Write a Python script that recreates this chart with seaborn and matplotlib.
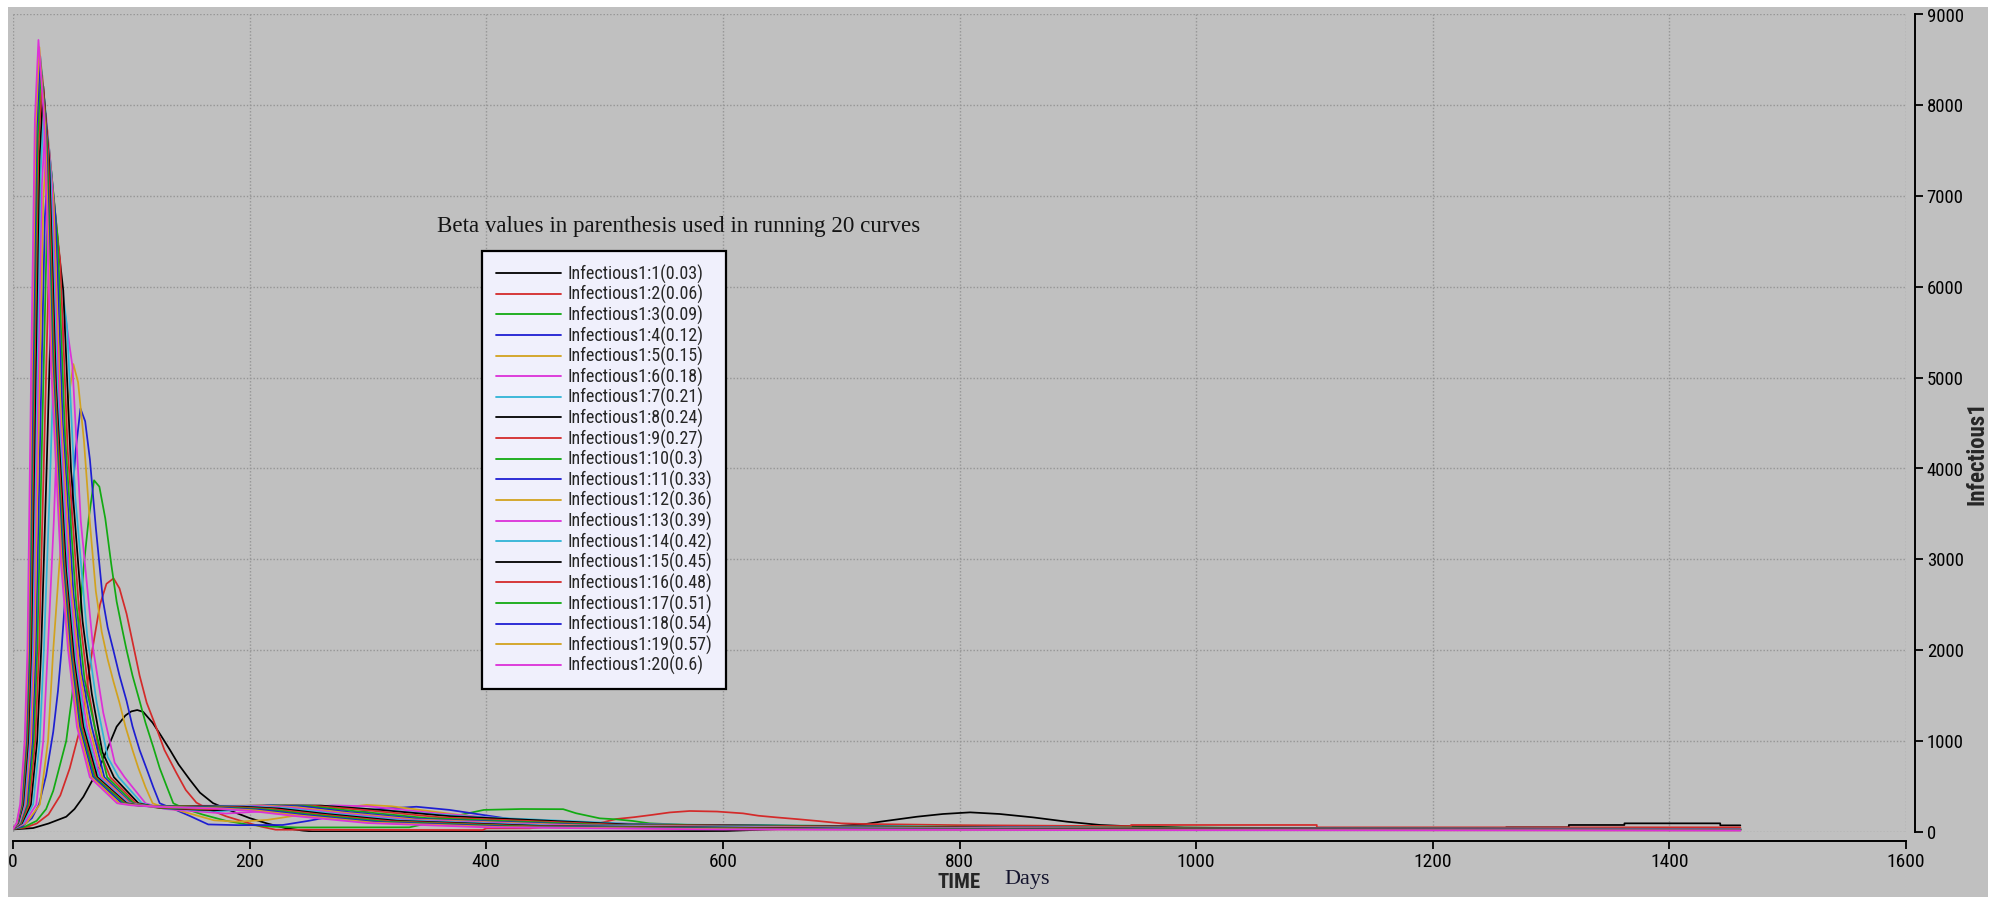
import matplotlib
matplotlib.use("Agg")
import matplotlib.pyplot as plt
from matplotlib.patches import Rectangle
from matplotlib.lines import Line2D
import seaborn as sns

# Beta values of the 20 runs and their legend labels
BETAS = [0.03, 0.06, 0.09, 0.12, 0.15, 0.18, 0.21, 0.24, 0.27, 0.30,
         0.33, 0.36, 0.39, 0.42, 0.45, 0.48, 0.51, 0.54, 0.57, 0.60]
SERIES_LABELS = [
    "Infectious1:1(0.03)", "Infectious1:2(0.06)", "Infectious1:3(0.09)",
    "Infectious1:4(0.12)", "Infectious1:5(0.15)", "Infectious1:6(0.18)",
    "Infectious1:7(0.21)", "Infectious1:8(0.24)", "Infectious1:9(0.27)",
    "Infectious1:10(0.3)", "Infectious1:11(0.33)", "Infectious1:12(0.36)",
    "Infectious1:13(0.39)", "Infectious1:14(0.42)", "Infectious1:15(0.45)",
    "Infectious1:16(0.48)", "Infectious1:17(0.51)", "Infectious1:18(0.54)",
    "Infectious1:19(0.57)", "Infectious1:20(0.6)",
]
X_TICKS = [0, 200, 400, 600, 800, 1000, 1200, 1400, 1600]
Y_TICKS = [0, 1000, 2000, 3000, 4000, 5000, 6000, 7000, 8000, 9000]

# Infectious1 over time (days) for each run
DAYS_1 = [0, 17, 30, 45, 52, 59.5, 66, 73.5, 80, 87.6, 95, 100, 105, 110, 118, 125, 132.7, 140, 149.6, 158,
          169, 186, 200, 215, 230, 245, 253, 400, 560, 603, 650, 700, 721, 733, 764, 786, 809, 834, 862, 891,
          919, 940, 965, 990, 1100, 1185, 1262, 1262, 1315, 1315, 1362, 1362, 1443, 1443, 1460]
INF_1 = [25, 40, 90, 165, 250, 385, 540, 720, 920, 1157, 1280, 1325, 1340, 1320, 1200, 1060, 900, 740, 570, 430,
         315, 220, 150, 90, 40, 12, 3, 3, 5, 8, 30, 65, 85, 110, 165, 195, 213, 195, 158, 110,
         74, 62, 55, 45, 35, 37, 40, 48, 48, 74, 74, 92, 92, 70, 70]

DAYS_2 = [0, 10, 20, 30, 40, 48, 56, 62, 67, 73.5, 79, 85, 90, 96, 101.7, 107, 113, 121, 128, 138,
          146, 155, 165, 180, 195, 210, 222, 397, 400, 437, 470, 496, 510, 525, 540, 555, 572, 595, 617, 630,
          645, 665, 680, 700, 720, 800, 900, 945, 945, 1102, 1102, 1460]
INF_2 = [30, 45, 90, 190, 400, 700, 1100, 1550, 2000, 2500, 2730, 2790, 2680, 2400, 2050, 1720, 1420, 1150, 900, 650,
         460, 320, 250, 170, 110, 55, 22, 18, 37, 37, 75, 95, 140, 160, 185, 212, 228, 222, 202, 176,
         158, 136, 118, 92, 85, 72, 64, 62, 74, 74, 48, 48]

DAYS_3 = [0, 10, 20, 28, 34, 40, 45, 50, 55, 60, 64, 68.5, 73, 78, 83, 87.6, 92, 96, 101, 107,
          112, 118.5, 124, 130, 135.5, 145, 160, 180, 200, 220, 240, 335, 360, 380, 398, 430, 465, 476, 496, 510,
          524, 538, 570, 650, 800, 950, 1100, 1300, 1460]
INF_3 = [30, 55, 120, 250, 450, 750, 1000, 1500, 2200, 2950, 3450, 3870, 3800, 3450, 2950, 2535, 2250, 2000, 1720, 1440,
         1200, 935, 700, 496, 313, 255, 190, 120, 75, 55, 47, 48, 120, 190, 240, 250, 248, 203, 147, 136,
         118, 92, 76, 68, 55, 47, 40, 33, 30]

DAYS_4 = [0, 8, 16, 22, 28, 34, 38, 41, 45, 49, 53, 57, 61, 65, 70, 76, 80, 84.8, 90, 96,
          101, 107, 113, 118.6, 124, 135, 150, 165, 190, 228, 250, 270, 290, 310, 341, 369, 397.6, 425.6, 453, 500,
          560, 650, 800, 1000, 1200, 1460]
INF_4 = [30, 60, 150, 300, 620, 1100, 1550, 2000, 2750, 3500, 4200, 4660, 4520, 4100, 3350, 2550, 2250, 2000, 1720, 1440,
         1160, 900, 690, 490, 313, 255, 170, 80, 72, 74, 120, 170, 215, 250, 275, 240, 184, 130, 100, 82,
         70, 60, 48, 38, 30, 25]

DAYS_5 = [0, 11.3, 22.7, 29.6, 34, 40, 45.6, 51, 55, 60, 65, 70, 75, 80, 85, 90, 95, 101, 106, 112,
          118, 128, 140, 155, 170, 190, 215, 245, 275, 299, 320, 350, 390, 430, 480, 560, 700, 900, 1150, 1460]
INF_5 = [30, 95, 300, 1000, 2000, 3090, 4640, 5150, 4950, 4300, 3400, 2650, 2200, 1900, 1650, 1420, 1160, 900, 700, 490,
         313, 265, 235, 180, 125, 110, 130, 190, 260, 295, 280, 230, 165, 120, 88, 70, 55, 42, 32, 24]

DAYS_6 = [0, 9.8, 19.7, 25.6, 29.4, 34.5, 39.3, 44.0, 50.2, 57.3, 67.9, 76.3, 86, 94.3, 112, 128, 180, 220, 270, 300,
          360, 450, 600, 900, 1200, 1460]
INF_6 = [30, 95, 300, 1000, 2000, 3420, 5130, 5700, 5130, 3420, 2000, 1310, 758, 600, 313, 250, 200, 230, 290, 280,
         200, 110, 65, 45, 35, 30]

DAYS_7 = [0, 8.5, 17.0, 22.6, 26.1, 30.9, 35.4, 39.8, 45.7, 52.5, 62.7, 70.7, 80, 89.3, 109, 126, 175, 240, 270, 320,
          380, 530, 860, 1100, 1460]
INF_7 = [30, 95, 300, 1000, 2000, 3710, 5560, 6180, 5560, 3710, 2160, 1421, 822, 600, 313, 258, 225, 290, 280, 230,
         170, 82, 46, 36, 30]

DAYS_8 = [0, 7.6, 15.1, 20.4, 23.8, 28.35, 32.6, 36.8, 42.5, 49.1, 58.8, 66.55, 75.5, 85.3, 106, 124, 170, 230, 260, 310,
          370, 520, 840, 1100, 1460]
INF_8 = [30, 95, 300, 1000, 2000, 3970, 5960, 6620, 5960, 3970, 2320, 1523, 880, 600, 313, 262, 235, 288, 288, 240,
         170, 80, 45, 35, 29]

DAYS_9 = [0, 6.9, 13.8, 18.8, 22.0, 26.3, 30.4, 34.3, 39.9, 46.25, 55.8, 63.3, 72, 82.2, 104, 122, 165, 225, 255, 300,
          360, 510, 820, 1100, 1460]
INF_9 = [30, 95, 300, 1000, 2000, 4190, 6280, 6980, 6280, 4190, 2440, 1605, 928, 600, 313, 265, 245, 290, 285, 235,
         160, 78, 44, 34, 28]

DAYS_10 = [0, 6.3, 12.6, 17.45, 20.5, 24.6, 28.5, 32.3, 37.7, 43.9, 53.2, 60.5, 69, 79.6, 102, 120, 160, 220, 250, 290,
           350, 500, 800, 1000, 1460]
INF_10 = [30, 95, 300, 1000, 2000, 4370, 6550, 7280, 6550, 4370, 2550, 1674, 1157, 600, 313, 268, 255, 292, 282, 225,
          150, 75, 42, 34, 28]

DAYS_11 = [0, 5.8, 11.6, 16.3, 19.2, 23.2, 26.95, 30.6, 35.9, 42.0, 51.0, 58.2, 66.5, 77.2, 100, 118, 160, 215, 245, 285,
           345, 490, 780, 1000, 1460]
INF_11 = [30, 95, 300, 1000, 2000, 4510, 6770, 7520, 6770, 4510, 2630, 1730, 1157, 600, 313, 272, 270, 292, 278, 215,
          140, 72, 40, 33, 27]

DAYS_12 = [0, 5.4, 10.8, 15.3, 18.1, 21.95, 25.6, 29.1, 34.3, 40.3, 49.25, 56.3, 64.5, 75.5, 99, 116, 160, 210, 240, 280,
           340, 480, 760, 1000, 1460]
INF_12 = [30, 95, 300, 1000, 2000, 4640, 6960, 7730, 6960, 4640, 2710, 1778, 1157, 600, 313, 275, 280, 290, 270, 210,
          135, 70, 40, 32, 26]

DAYS_13 = [0, 5.0, 10.0, 14.3, 17.1, 20.85, 24.4, 27.8, 32.9, 38.8, 47.6, 54.5, 62.5, 73.9, 98, 114, 160, 205, 235, 275,
           335, 470, 740, 1000, 1460]
INF_13 = [30, 95, 300, 1000, 2000, 4750, 7120, 7910, 7120, 4750, 2770, 1819, 1157, 600, 313, 278, 286, 285, 265, 205,
          130, 68, 38, 30, 25]

DAYS_14 = [0, 4.6, 9.3, 13.5, 16.2, 19.8, 23.3, 26.6, 31.7, 37.5, 46.2, 53.05, 61, 72.5, 97, 112, 155, 200, 230, 270,
           330, 460, 720, 1000, 1460]
INF_14 = [30, 95, 300, 1000, 2000, 4840, 7260, 8070, 7260, 4840, 2820, 1856, 1157, 600, 313, 280, 284, 280, 260, 200,
          125, 65, 36, 28, 24]

DAYS_15 = [0, 4.3, 8.6, 12.8, 15.4, 19.0, 22.3, 25.6, 30.6, 36.3, 44.9, 51.7, 59.5, 71.2, 96, 110, 150, 195, 225, 265,
           325, 450, 700, 1000, 1460]
INF_15 = [30, 95, 300, 1000, 2000, 4930, 7390, 8210, 7390, 4930, 2870, 1888, 1157, 600, 313, 282, 282, 275, 255, 195,
          120, 62, 34, 26, 22]

DAYS_16 = [0, 4.0, 8.0, 12.1, 14.7, 18.2, 21.5, 24.7, 29.7, 35.35, 43.8, 50.55, 58.3, 70.0, 95, 108, 150, 190, 220, 260,
           320, 440, 680, 1000, 1460]
INF_16 = [30, 95, 300, 1000, 2000, 5000, 7500, 8330, 7500, 5000, 2920, 1916, 1157, 600, 313, 285, 280, 270, 250, 190,
          115, 60, 32, 24, 20]

DAYS_17 = [0, 3.7, 7.5, 11.5, 14.0, 17.4, 20.7, 23.8, 28.7, 34.4, 42.8, 49.5, 57.2, 69.0, 94, 106, 145, 185, 215, 255,
           315, 430, 660, 1000, 1460]
INF_17 = [30, 95, 300, 1000, 2000, 5060, 7590, 8430, 7590, 5060, 2950, 1939, 1157, 600, 313, 288, 278, 265, 245, 185,
          110, 58, 30, 22, 18]

DAYS_18 = [0, 3.5, 7.0, 10.9, 13.4, 16.8, 19.9, 23.0, 27.9, 33.5, 41.9, 48.6, 56.2, 67.7, 92, 104, 140, 180, 210, 250,
           310, 420, 640, 1000, 1460]
INF_18 = [30, 95, 300, 1000, 2000, 5120, 7690, 8540, 7690, 5120, 2990, 1964, 1157, 600, 313, 290, 275, 262, 240, 180,
          105, 55, 28, 20, 16]

DAYS_19 = [0, 3.2, 6.5, 10.35, 12.8, 16.1, 19.3, 22.3, 27.2, 32.7, 41, 47.6, 55.2, 66.3, 90, 102, 135, 175, 205, 245,
           305, 410, 620, 950, 1460]
INF_19 = [30, 95, 300, 1000, 2000, 5180, 7780, 8640, 7780, 5180, 3020, 1987, 1157, 600, 313, 292, 272, 258, 235, 175,
          100, 52, 26, 18, 14]

DAYS_20 = [0, 3, 6, 9.8, 12.2, 15.5, 18.5, 21.5, 26.3, 31.8, 40, 46.5, 54, 64.9, 88, 100, 130, 170, 200, 240,
           300, 400, 600, 900, 1460]
INF_20 = [30, 95, 300, 1000, 2000, 5230, 7850, 8720, 7850, 5230, 3050, 2005, 1157, 600, 313, 290, 270, 255, 230, 170,
          95, 48, 24, 17, 12]

ALL_DAYS = [DAYS_1, DAYS_2, DAYS_3, DAYS_4, DAYS_5, DAYS_6, DAYS_7, DAYS_8, DAYS_9, DAYS_10,
            DAYS_11, DAYS_12, DAYS_13, DAYS_14, DAYS_15, DAYS_16, DAYS_17, DAYS_18, DAYS_19, DAYS_20]
ALL_INF = [INF_1, INF_2, INF_3, INF_4, INF_5, INF_6, INF_7, INF_8, INF_9, INF_10,
           INF_11, INF_12, INF_13, INF_14, INF_15, INF_16, INF_17, INF_18, INF_19, INF_20]

# Seven-colour cycle used by the simulation package
CYCLE = ["#000000", "#d42a2a", "#12aa12", "#1e1ed2", "#d2a21e", "#dc30d8", "#30b4d6"]
COLORS = [CYCLE[i % len(CYCLE)] for i in range(len(BETAS))]

BG = "#c0c0c0"
NARROW = ["Liberation Sans Narrow", "Arial Narrow", "DejaVu Sans Condensed",
          "Roboto Condensed", "Open Sans Condensed", "Noto Sans Condensed", "DejaVu Sans"]
SERIF = ["Liberation Serif", "DejaVu Serif"]

sns.set_style("white")
plt.rcParams["font.family"] = NARROW
plt.rcParams["font.stretch"] = "condensed"

W, H = 1996, 897
fig = plt.figure(figsize=(W / 100, H / 100), dpi=100, facecolor=BG)
ax = fig.add_axes([13 / W, (H - 831.7) / H, 1893 / W, 817.2 / H])
ax.set_facecolor(BG)

for days, vals, col in zip(ALL_DAYS, ALL_INF, COLORS):
    assert len(days) == len(vals)
    sns.lineplot(x=days, y=vals, ax=ax, color=col, linewidth=1.25,
                 estimator=None, sort=False, legend=False)

ax.set_xlim(0, 1600)
ax.set_ylim(0, 9000)
ax.set_xticks(X_TICKS)
ax.set_yticks(Y_TICKS)
ax.set_xticklabels([str(v) for v in X_TICKS])
ax.set_yticklabels([str(v) for v in Y_TICKS])

ax.set_axisbelow(True)
ax.grid(True, color="#959595", linestyle=(0, (1, 1.4)), linewidth=1.0)

for side in ("left", "top"):
    ax.spines[side].set_visible(False)
for side in ("bottom", "right"):
    ax.spines[side].set_visible(True)
    ax.spines[side].set_color("black")
    ax.spines[side].set_linewidth(1.4)
    ax.spines[side].set_position(("outward", 6.5))

ax.yaxis.tick_right()
ax.tick_params(axis="x", direction="out", length=5.5, width=1.3, pad=3.6,
               labelsize=14, colors="black", bottom=True)
ax.tick_params(axis="y", direction="out", length=5.5, width=1.3, pad=2.9,
               labelsize=13.5, colors="black", left=False, right=True,
               labelleft=False, labelright=True)

# axis titles
ax.yaxis.set_label_position("right")
ax.set_ylabel("Infectious1", fontsize=16.5, fontweight="bold", rotation=90)
ax.yaxis.label.set_va("center")
ax.yaxis.label.set_ha("center")
ax.yaxis.set_label_coords(1.0375, 0.463)

ax.set_xlabel("TIME", fontsize=15, fontweight="bold")
ax.xaxis.label.set_va("center")
ax.xaxis.set_label_coords(0.4997, -0.062)
ax.text(0.5357, -0.059, "Days", transform=ax.transAxes, ha="center", va="center",
        fontsize=16, family=SERIF, color="#14142e")

# note above the legend
ax.text(0.224, 0.7342, "Beta values in parenthesis used in running 20 curves",
        transform=ax.transAxes, ha="left", va="baseline", fontsize=16.6,
        family=SERIF, color="#141414")

handles = [Line2D([0], [0], color=c, linewidth=1.3) for c in COLORS]
leg = ax.legend(handles, SERIES_LABELS, loc="upper left",
                bbox_to_anchor=(0.2478, 0.7106), bbox_transform=ax.transAxes,
                borderaxespad=0, frameon=True, fancybox=False, shadow=False,
                framealpha=1, facecolor="#f0f0fc", edgecolor="black",
                handlelength=3.6, handletextpad=0.4, labelspacing=0.08,
                borderpad=0.75, prop={"family": NARROW, "size": 13, "stretch": "condensed"})
leg.get_frame().set_linewidth(1.6)

# thin white margin on the left, top and right of the window capture
for x0, y0, w, h in [(0, 0, 8, H), (W - 8, 0, 8, H), (0, H - 7, W, 7)]:
    fig.add_artist(Rectangle((x0 / W, y0 / H), w / W, h / H, transform=fig.transFigure,
                             facecolor="white", edgecolor="none", zorder=10))

fig.savefig("out.png", dpi=100, facecolor=BG)
